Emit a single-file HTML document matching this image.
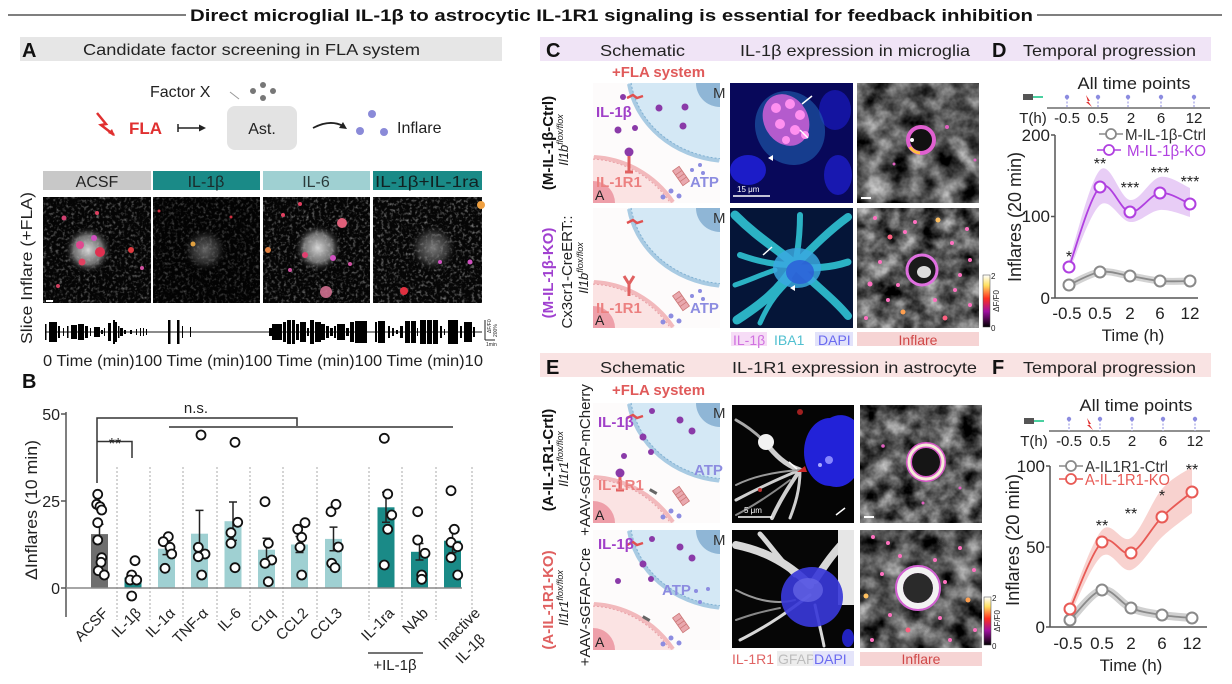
<!DOCTYPE html>
<html><head><meta charset="utf-8">
<style>
html,body{margin:0;padding:0;background:#fff;width:1232px;height:684px;overflow:hidden;}
svg{display:block;font-family:"Liberation Sans",Arial,sans-serif;overflow:hidden;}
</style></head><body>
<svg width="1232" height="684" viewBox="0 0 1232 684" xmlns="http://www.w3.org/2000/svg">
<defs>
<filter id="fSpeck" x="0" y="0" width="1" height="1" color-interpolation-filters="sRGB">
<feTurbulence type="fractalNoise" baseFrequency="0.32" numOctaves="2" seed="4"/>
<feColorMatrix type="matrix" values="0 0 0 0 0.85  0 0 0 0 0.85  0 0 0 0 0.85  2.2 0 0 0 -1.1"/>
</filter>
<filter id="fGray" x="0" y="0" width="1" height="1" color-interpolation-filters="sRGB">
<feTurbulence type="fractalNoise" baseFrequency="0.045" numOctaves="4" seed="7"/>
<feColorMatrix type="matrix" values="1.2 0 0 0 -0.27  1.2 0 0 0 -0.27  1.2 0 0 0 -0.27  0 0 0 0 1"/>
</filter>
<filter id="fGray2" x="0" y="0" width="1" height="1" color-interpolation-filters="sRGB">
<feTurbulence type="fractalNoise" baseFrequency="0.05" numOctaves="4" seed="11"/>
<feColorMatrix type="matrix" values="1.2 0 0 0 -0.25  1.2 0 0 0 -0.25  1.2 0 0 0 -0.25  0 0 0 0 1"/>
</filter>
<radialGradient id="blobW"><stop offset="0" stop-color="#e0e0e0" stop-opacity="0.95"/><stop offset="0.6" stop-color="#a0a0a0" stop-opacity="0.7"/><stop offset="1" stop-color="#000" stop-opacity="0"/></radialGradient>
<radialGradient id="blobF"><stop offset="0" stop-color="#999" stop-opacity="0.8"/><stop offset="0.6" stop-color="#666" stop-opacity="0.5"/><stop offset="1" stop-color="#000" stop-opacity="0"/></radialGradient>
<linearGradient id="cbar" x1="0" y1="0" x2="0" y2="1"><stop offset="0" stop-color="#fff"/><stop offset="0.2" stop-color="#ffe060"/><stop offset="0.45" stop-color="#ff3020"/><stop offset="0.7" stop-color="#a010a0"/><stop offset="1" stop-color="#000"/></linearGradient>
<g id="schBase">
<rect width="127" height="120" fill="#fdfbfb"/>
<path d="M35 0 A103 92 0 0 0 127 78.6 L127 0 Z" fill="#d4e8f5"/>
<path d="M36 1 A103 92 0 0 0 126 77.6" fill="none" stroke="#a9cbe3" stroke-width="4"/>
<path d="M38.1 0 A100 89 0 0 0 127 75.6" fill="none" stroke="#7fb0d2" stroke-width="1" stroke-dasharray="2 2"/>
<path d="M103 0 A24 24 0 0 0 127 24 L127 0 Z" fill="#8fb6d6"/>
<path d="M0 120 L0 73.1 A102 102 0 0 1 80.9 120 Z" fill="#fbe3e3"/>
<path d="M1 74 A102 102 0 0 1 80 119" fill="none" stroke="#f2b9bc" stroke-width="4"/>
<path d="M0 76.1 A99 99 0 0 1 77.3 120" fill="none" stroke="#e9a0a6" stroke-width="1" stroke-dasharray="2 2"/>
<path d="M0 98 A22 22 0 0 1 22 120 L0 120 Z" fill="#ee9fa9"/>
<g transform="translate(88,93) rotate(-35)"><rect x="-4" y="-9" width="8" height="18" fill="#e9a8ae" stroke="#c77" stroke-width="0.8"/><line x1="-4" y1="-4" x2="4" y2="-4" stroke="#c77" stroke-width="0.8"/><line x1="-4" y1="0" x2="4" y2="0" stroke="#c77" stroke-width="0.8"/><line x1="-4" y1="4" x2="4" y2="4" stroke="#c77" stroke-width="0.8"/></g>
<circle cx="78" cy="108" r="2.5" fill="#8c8ce0"/><circle cx="86" cy="113" r="2.5" fill="#8c8ce0"/><circle cx="70" cy="114" r="2.5" fill="#8c8ce0"/>
<path d="M34 15 l6 -3 l4 3 l6 -2" stroke="#e05050" stroke-width="2.5" fill="none"/>
</g>
</defs>

<rect width="1232" height="684" fill="#fff"/>

<!-- Title -->
<line x1="8" y1="15" x2="186" y2="15" stroke="#555" stroke-width="1.5"/>
<line x1="1037" y1="15" x2="1222" y2="15" stroke="#555" stroke-width="1.5"/>
<text x="190" y="21" font-size="17" font-weight="bold" fill="#111" textLength="843" lengthAdjust="spacingAndGlyphs">Direct microglial IL-1β to astrocytic IL-1R1 signaling is essential for feedback inhibition</text>

<!-- Panel A header -->
<rect x="20" y="37" width="482" height="24" fill="#e6e6e6"/>
<text x="22" y="57" font-size="20" font-weight="bold" fill="#111">A</text>
<text x="83" y="55" font-size="16" fill="#222" textLength="337" lengthAdjust="spacingAndGlyphs">Candidate factor screening in FLA system</text>

<!-- A diagram -->
<text x="150" y="97" font-size="16" fill="#222">Factor X</text>
<line x1="230" y1="92" x2="239" y2="99" stroke="#999" stroke-width="1"/>
<circle cx="253" cy="91" r="3" fill="#777"/><circle cx="263" cy="85" r="3" fill="#777"/><circle cx="263" cy="98" r="3" fill="#777"/><circle cx="273" cy="91" r="3" fill="#777"/>
<polyline points="97,113 106,124 101,125 114,135" fill="none" stroke="#e03030" stroke-width="2.5" stroke-linejoin="miter"/>
<path d="M115 136 L108 133 L112 129 Z" fill="#e03030"/>
<text x="129" y="134" font-size="17" font-weight="bold" fill="#e03030">FLA</text>
<line x1="178" y1="124" x2="178" y2="132" stroke="#222" stroke-width="1.5"/>
<line x1="178" y1="128" x2="204" y2="128" stroke="#222" stroke-width="1.5"/>
<path d="M206 128 L199 124.5 L199 131.5 Z" fill="#222"/>
<rect x="227" y="106" width="70" height="44" rx="8" fill="#e3e3e3"/>
<text x="262" y="134" font-size="16" fill="#222" text-anchor="middle">Ast.</text>
<path d="M313 128 Q330 119 343 126" stroke="#222" stroke-width="1.8" fill="none"/>
<path d="M347 129 L339 128 L343 122 Z" fill="#222"/>
<circle cx="360" cy="131" r="4" fill="#8a8ad8"/><circle cx="372" cy="114" r="4" fill="#8a8ad8"/><circle cx="384" cy="132" r="4" fill="#8a8ad8"/>
<text x="397" y="133" font-size="16" fill="#222">Inflare</text>

<!-- A condition bars -->
<rect x="43" y="171" width="108" height="19" fill="#c8c8c8"/>
<rect x="153" y="171" width="107" height="19" fill="#1a8a87"/>
<rect x="263" y="171" width="107" height="19" fill="#9fd0d2"/>
<rect x="373" y="171" width="109" height="19" fill="#1a8a87"/>
<text x="97" y="187" font-size="16" fill="#222" text-anchor="middle">ACSF</text>
<text x="206" y="187" font-size="16" fill="#1a2a2a" text-anchor="middle">IL-1β</text>
<text x="316" y="187" font-size="16" fill="#2a3a3a" text-anchor="middle">IL-6</text>
<text x="427" y="187" font-size="16" fill="#112222" text-anchor="middle" textLength="104" lengthAdjust="spacingAndGlyphs">IL-1β+IL-1ra</text>

<!-- A images -->
<g>
<rect x="43" y="197" width="108" height="106" fill="#050505"/>
<rect x="43" y="197" width="108" height="106" filter="url(#fSpeck)" opacity="0.55"/>
<circle cx="88" cy="250" r="24" fill="url(#blobW)"/>
<circle cx="80" cy="245" r="4" fill="#e04890"/><circle cx="100" cy="252" r="5" fill="#e03050"/><circle cx="94" cy="238" r="3" fill="#d050c0"/><circle cx="82" cy="262" r="3.5" fill="#e04060"/><circle cx="131" cy="250" r="3" fill="#e03a40"/><circle cx="64" cy="218" r="2.5" fill="#d04070"/><circle cx="97" cy="213" r="2" fill="#e04060"/><circle cx="142" cy="268" r="2" fill="#d050a0"/><circle cx="58" cy="286" r="2" fill="#d04060"/>
<rect x="46" y="300" width="7" height="2" fill="#fff"/>
<rect x="153" y="197" width="107" height="106" fill="#030303"/>
<rect x="153" y="197" width="107" height="106" filter="url(#fSpeck)" opacity="0.4"/>
<circle cx="205" cy="250" r="22" fill="url(#blobF)" opacity="0.8"/>
<circle cx="193" cy="244" r="2.5" fill="#e0a040"/><circle cx="159" cy="211" r="1.5" fill="#d03040"/><circle cx="231" cy="217" r="1.5" fill="#d03040"/>
<rect x="263" y="197" width="107" height="106" fill="#050505"/>
<rect x="263" y="197" width="107" height="106" filter="url(#fSpeck)" opacity="0.6"/>
<circle cx="318" cy="248" r="24" fill="url(#blobW)"/>
<circle cx="305" cy="255" r="3" fill="#e04070"/><circle cx="333" cy="258" r="3" fill="#d050c0"/><circle cx="342" cy="223" r="5" fill="#e0607a"/><circle cx="326" cy="292" r="6" fill="#d07090" opacity="0.9"/><circle cx="268" cy="250" r="3" fill="#e08040"/><circle cx="283" cy="215" r="2" fill="#e04060"/><circle cx="300" cy="204" r="2" fill="#e04060"/><circle cx="290" cy="270" r="2" fill="#d050a0"/><circle cx="350" cy="264" r="2" fill="#d050a0"/>
<rect x="373" y="197" width="109" height="106" fill="#060606"/>
<rect x="373" y="197" width="109" height="106" filter="url(#fSpeck)" opacity="0.65"/>
<circle cx="433" cy="248" r="24" fill="url(#blobF)"/>
<circle cx="404" cy="291" r="4" fill="#e03040"/><circle cx="481" cy="205" r="4" fill="#f0a040"/><circle cx="470" cy="262" r="2.5" fill="#d050c0"/><circle cx="440" cy="262" r="2" fill="#d050c0"/>
</g>

<text transform="translate(32,268) rotate(-90)" font-size="16" fill="#222" text-anchor="middle" textLength="152" lengthAdjust="spacingAndGlyphs">Slice Inflare (+FLA)</text>

<!-- traces -->
<line x1="45" y1="332" x2="482" y2="332" stroke="#666" stroke-width="1.5"/>
<g fill="#000">
<rect x="45" y="324" width="1.5" height="16"/><rect x="49" y="322" width="8" height="20"/><rect x="58" y="326" width="2" height="12"/><rect x="63" y="328" width="1" height="8"/><rect x="67" y="326" width="1.5" height="12"/><rect x="71" y="325" width="6" height="14"/><rect x="78" y="324" width="6" height="16"/><rect x="85" y="326" width="3" height="12"/><rect x="90" y="328" width="1" height="8"/><rect x="94" y="327" width="6" height="10"/><rect x="101" y="330" width="2" height="4"/><rect x="104" y="328" width="1" height="8"/><rect x="108" y="323" width="3" height="18"/><rect x="113" y="320" width="2" height="24"/><rect x="115" y="322" width="2" height="20"/><rect x="118" y="326" width="1.5" height="12"/><rect x="120" y="328" width="3" height="8"/><rect x="124" y="330" width="2" height="4"/><rect x="130" y="330" width="2" height="4"/><rect x="136" y="329" width="1" height="6"/><rect x="140" y="328" width="1" height="8"/><rect x="143" y="328" width="1" height="8"/><rect x="146" y="329" width="1" height="6"/>
<rect x="168" y="320" width="2.5" height="24"/><rect x="177" y="320" width="2.5" height="24"/><rect x="182" y="326" width="1" height="12"/><rect x="190" y="327" width="1" height="10"/>
<rect x="269" y="328" width="3" height="8"/><rect x="272" y="324" width="10" height="16"/><rect x="283" y="322" width="3" height="20"/><rect x="287" y="320" width="4" height="24"/><rect x="292" y="320" width="3" height="24"/><rect x="296" y="324" width="3" height="16"/><rect x="300" y="322" width="6" height="20"/><rect x="307" y="328" width="2" height="8"/><rect x="310" y="320" width="4" height="24"/><rect x="315" y="322" width="6" height="20"/><rect x="321" y="324" width="4" height="16"/><rect x="326" y="326" width="3" height="12"/><rect x="330" y="328" width="3" height="8"/><rect x="334" y="326" width="2" height="12"/><rect x="337" y="324" width="8" height="16"/><rect x="346" y="328" width="3" height="8"/><rect x="350" y="322" width="4" height="20"/><rect x="355" y="321" width="12" height="22"/>
<rect x="375" y="322" width="2" height="20"/><rect x="378" y="321" width="7" height="22"/><rect x="388" y="326" width="2" height="12"/><rect x="392" y="328" width="2" height="8"/><rect x="396" y="330" width="2" height="4"/><rect x="400" y="326" width="3" height="12"/><rect x="405" y="321" width="5" height="22"/><rect x="411" y="321" width="5" height="22"/><rect x="417" y="328" width="1" height="8"/><rect x="420" y="320" width="6" height="24"/><rect x="427" y="320" width="5" height="24"/><rect x="433" y="320" width="5" height="24"/><rect x="440" y="326" width="2" height="12"/><rect x="444" y="329" width="1" height="6"/><rect x="448" y="320" width="10" height="24"/><rect x="460" y="326" width="2" height="12"/><rect x="464" y="322" width="8" height="20"/><rect x="473" y="327" width="2" height="10"/>
</g>
<line x1="485" y1="320" x2="485" y2="340" stroke="#222" stroke-width="1"/>
<line x1="485" y1="340" x2="495" y2="340" stroke="#222" stroke-width="1"/>
<text transform="translate(491,333) rotate(-90)" font-size="5" fill="#222">ΔF/F0</text>
<text transform="translate(497,337) rotate(-90)" font-size="5" fill="#222">200%</text>
<text x="486" y="346" font-size="5" fill="#222">1min</text>
<g font-size="16" fill="#222">
<text x="43" y="366" textLength="110" lengthAdjust="spacingAndGlyphs">0 Time (min)10</text>
<text x="153" y="366" textLength="110" lengthAdjust="spacingAndGlyphs">0 Time (min)10</text>
<text x="263" y="366" textLength="110" lengthAdjust="spacingAndGlyphs">0 Time (min)10</text>
<text x="373" y="366" textLength="110" lengthAdjust="spacingAndGlyphs">0 Time (min)10</text>
</g>

<!-- Panel B -->
<text x="22" y="388" font-size="20" font-weight="bold" fill="#111">B</text>
<text transform="translate(37,510) rotate(-90)" font-size="17" fill="#222" text-anchor="middle" textLength="140" lengthAdjust="spacingAndGlyphs">ΔInflares (10 min)</text>
<g font-size="16" fill="#222" text-anchor="end">
<text x="60" y="420">50</text><text x="60" y="507">25</text><text x="60" y="594">0</text>
</g>
<line x1="66" y1="412" x2="66" y2="617" stroke="#555" stroke-width="1.5"/>
<line x1="61" y1="414" x2="66" y2="414" stroke="#555" stroke-width="1.5"/>
<line x1="61" y1="501" x2="66" y2="501" stroke="#555" stroke-width="1.5"/>
<line x1="61" y1="588" x2="66" y2="588" stroke="#555" stroke-width="1.5"/>
<g stroke="#aaa" stroke-width="1" stroke-dasharray="2 2">
<line x1="117" y1="467" x2="117" y2="620"/><line x1="150" y1="467" x2="150" y2="620"/><line x1="183" y1="467" x2="183" y2="620"/><line x1="217" y1="467" x2="217" y2="620"/><line x1="250" y1="467" x2="250" y2="620"/><line x1="283" y1="467" x2="283" y2="620"/><line x1="317" y1="467" x2="317" y2="620"/><line x1="369" y1="467" x2="369" y2="620"/><line x1="402" y1="467" x2="402" y2="620"/><line x1="436" y1="467" x2="436" y2="620"/><line x1="472" y1="467" x2="472" y2="620"/>
</g>
<!-- bars -->
<rect x="91" y="534.1" width="17" height="53.9" fill="#6e6e6e"/>
<rect x="124.5" y="577.6" width="17" height="10.4" fill="#1a8a87"/>
<rect x="158" y="548.7" width="17" height="39.3" fill="#9fd0d2"/>
<rect x="191" y="533.7" width="17" height="54.3" fill="#9fd0d2"/>
<rect x="224.5" y="521.2" width="17" height="66.8" fill="#9fd0d2"/>
<rect x="258" y="549.7" width="17" height="38.3" fill="#9fd0d2"/>
<rect x="291" y="544.5" width="17" height="43.5" fill="#9fd0d2"/>
<rect x="325" y="538.9" width="17" height="49.1" fill="#9fd0d2"/>
<rect x="377.5" y="507.3" width="17" height="80.7" fill="#1a8a87"/>
<rect x="411" y="551.8" width="17" height="36.2" fill="#1a8a87"/>
<rect x="444" y="540.7" width="17" height="47.3" fill="#1a8a87"/>
<line x1="66" y1="588" x2="462" y2="588" stroke="#888" stroke-width="1.5"/>
<!-- error bars -->
<g stroke="#222" stroke-width="1.5" fill="none">
<path d="M99.5 524.3 V543.9 M95.5 524.3 H103.5"/>
<path d="M166.5 542.8 V554.6 M162.5 542.8 H170.5 M162.5 554.6 H170.5"/>
<path d="M199.5 510.4 V557 M195.5 510.4 H203.5 M195.5 557 H203.5"/>
<path d="M233 502 V540.4 M229 502 H237 M229 540.4 H237"/>
<path d="M266.5 538.2 V561.2 M262.5 538.2 H270.5 M262.5 561.2 H270.5"/>
<path d="M299.5 536.5 V552.5 M295.5 536.5 H303.5 M295.5 552.5 H303.5"/>
<path d="M333.5 527.1 V550.7 M329.5 527.1 H337.5 M329.5 550.7 H337.5"/>
<path d="M386 492.3 V522.3 M382 492.3 H390 M382 522.3 H390"/>
<path d="M419.5 543.5 V560 M415.5 543.5 H423.5 M415.5 560 H423.5"/>
<path d="M452.5 528.8 V552.6 M448.5 528.8 H456.5 M448.5 552.6 H456.5"/>
</g>
<!-- points -->
<g fill="#fff" stroke="#111" stroke-width="1.8">
<circle cx="97.7" cy="494.3" r="4.5"/><circle cx="96.7" cy="504.3" r="4.5"/><circle cx="100" cy="506.7" r="4.5"/><circle cx="101.7" cy="510" r="4.5"/><circle cx="97.7" cy="522.7" r="4.5"/><circle cx="97.7" cy="540" r="4.5"/><circle cx="101.7" cy="557.7" r="4.5"/><circle cx="101" cy="562.3" r="4.5"/><circle cx="98.3" cy="570.7" r="4.5"/><circle cx="104.3" cy="575" r="4.5"/>
<circle cx="135" cy="560.7" r="4.5"/><circle cx="131.7" cy="575" r="4.5"/><circle cx="130" cy="580" r="4.5"/><circle cx="136.7" cy="580" r="4.5"/><circle cx="131.7" cy="596" r="4.5"/>
<circle cx="168.3" cy="536.7" r="4.5"/><circle cx="163.3" cy="541.7" r="4.5"/><circle cx="170" cy="547.3" r="4.5"/><circle cx="171.7" cy="554" r="4.5"/><circle cx="165" cy="568.3" r="4.5"/>
<circle cx="201" cy="435" r="4.5"/><circle cx="198.3" cy="547.3" r="4.5"/><circle cx="205" cy="554" r="4.5"/><circle cx="198.3" cy="556.7" r="4.5"/><circle cx="201.7" cy="575" r="4.5"/>
<circle cx="235" cy="442.3" r="4.5"/><circle cx="237.7" cy="522.3" r="4.5"/><circle cx="231" cy="532.7" r="4.5"/><circle cx="231" cy="543.3" r="4.5"/><circle cx="235" cy="567.7" r="4.5"/>
<circle cx="265" cy="501.7" r="4.5"/><circle cx="268.3" cy="543.3" r="4.5"/><circle cx="271.7" cy="560" r="4.5"/><circle cx="265" cy="563.3" r="4.5"/><circle cx="268.3" cy="581.7" r="4.5"/>
<circle cx="305" cy="522.7" r="4.5"/><circle cx="297.7" cy="529.3" r="4.5"/><circle cx="301.7" cy="537.3" r="4.5"/><circle cx="300" cy="547.3" r="4.5"/><circle cx="301.7" cy="575" r="4.5"/>
<circle cx="336" cy="504.3" r="4.5"/><circle cx="331" cy="511.7" r="4.5"/><circle cx="338.3" cy="547" r="4.5"/><circle cx="331.7" cy="563.3" r="4.5"/><circle cx="335" cy="567.7" r="4.5"/>
<circle cx="384.3" cy="438.3" r="4.5"/><circle cx="387.7" cy="494" r="4.5"/><circle cx="391.7" cy="515" r="4.5"/><circle cx="387.7" cy="529.3" r="4.5"/><circle cx="384.3" cy="565" r="4.5"/>
<circle cx="417.7" cy="511.7" r="4.5"/><circle cx="417.7" cy="540" r="4.5"/><circle cx="425" cy="553.3" r="4.5"/><circle cx="421.7" cy="575" r="4.5"/><circle cx="421.7" cy="579.3" r="4.5"/>
<circle cx="451" cy="490.7" r="4.5"/><circle cx="454.3" cy="529.3" r="4.5"/><circle cx="451" cy="542.3" r="4.5"/><circle cx="457.7" cy="546.7" r="4.5"/><circle cx="451" cy="557.7" r="4.5"/><circle cx="457.7" cy="575" r="4.5"/>
</g>
<!-- significance -->
<g stroke="#333" stroke-width="1.5" fill="none">
<path d="M97 483 V418 H297 V426"/>
<path d="M169 427 H453"/>
<path d="M97 441.5 H132 V458"/>
</g>
<text x="196" y="413" font-size="15" fill="#222" text-anchor="middle">n.s.</text>
<text x="115" y="449" font-size="16" fill="#222" text-anchor="middle">**</text>
<!-- x labels -->
<g font-size="15" fill="#222" text-anchor="end">
<text transform="translate(109,614) rotate(-45)">ACSF</text>
<text transform="translate(142,614) rotate(-45)">IL-1β</text>
<text transform="translate(176,614) rotate(-45)">IL-1α</text>
<text transform="translate(209,614) rotate(-45)">TNF-α</text>
<text transform="translate(242,614) rotate(-45)">IL-6</text>
<text transform="translate(276,614) rotate(-45)">C1q</text>
<text transform="translate(309,614) rotate(-45)">CCL2</text>
<text transform="translate(343,614) rotate(-45)">CCL3</text>
<text transform="translate(395,614) rotate(-45)">IL-1ra</text>
<text transform="translate(429,614) rotate(-45)">NAb</text>
<text transform="translate(481,614) rotate(-45)">Inactive</text>
<text transform="translate(486,640) rotate(-45)">IL-1β</text>
</g>
<line x1="368" y1="653" x2="423" y2="653" stroke="#222" stroke-width="1.2"/>
<text x="395" y="670" font-size="15" fill="#222" text-anchor="middle">+IL-1β</text>

<!-- Panel C/D header -->
<rect x="540" y="37" width="671" height="24" fill="#f0e4f6"/>
<text x="546" y="57" font-size="20" font-weight="bold" fill="#111">C</text>
<text x="600" y="56" font-size="16" fill="#222" textLength="85" lengthAdjust="spacingAndGlyphs">Schematic</text>
<text x="740" y="56" font-size="16" fill="#222" textLength="230" lengthAdjust="spacingAndGlyphs">IL-1β expression in microglia</text>
<text x="992" y="57" font-size="20" font-weight="bold" fill="#111">D</text>
<text x="1023" y="56" font-size="16" fill="#222" textLength="173" lengthAdjust="spacingAndGlyphs">Temporal progression</text>

<text x="612" y="77" font-size="15" font-weight="bold" fill="#e05a5a" textLength="93" lengthAdjust="spacingAndGlyphs">+FLA system</text>

<!-- C row labels -->
<text transform="translate(553,143) rotate(-90)" font-size="15" font-weight="bold" fill="#111" text-anchor="middle">(M-IL-1β-Ctrl)</text>
<text transform="translate(568,140) rotate(-90)" font-size="13" font-style="italic" fill="#222" text-anchor="middle">Il1b<tspan font-size="9" dy="-5">flox/flox</tspan></text>
<text transform="translate(553,273) rotate(-90)" font-size="15" font-weight="bold" fill="#a040d0" text-anchor="middle">(M-IL-1β-KO)</text>
<text transform="translate(572,272) rotate(-90)" font-size="15" fill="#222" text-anchor="middle">Cx3cr1-CreERT::</text>
<text transform="translate(588,268) rotate(-90)" font-size="13" font-style="italic" fill="#222" text-anchor="middle">Il1b<tspan font-size="9" dy="-5">flox/flox</tspan></text>

<!-- C schematics -->
<use href="#schBase" x="593" y="83"/>
<text x="713" y="98" font-size="15" fill="#333">M</text>
<text x="595" y="200" font-size="14" fill="#222">A</text>
<text x="596" y="117" font-size="15" font-weight="bold" fill="#a040c8">IL-1β</text>
<g fill="#8a3aa8"><circle cx="623" cy="97" r="3"/><circle cx="659" cy="108" r="3.5"/><circle cx="685" cy="107" r="3.5"/><circle cx="683" cy="126" r="3.5"/><circle cx="618" cy="130" r="3.5"/><circle cx="635" cy="128" r="3"/><circle cx="629" cy="152" r="4.5"/></g>
<path d="M629 156 V172 M625 172 H633" stroke="#e06060" stroke-width="3"/>
<text x="596" y="187" font-size="15" font-weight="bold" fill="#ec8080">IL-1R1</text>
<text x="690" y="187" font-size="15" font-weight="bold" fill="#8c8ce0">ATP</text>
<g fill="#8c8ce0"><circle cx="692" cy="170" r="2"/><circle cx="700" cy="165" r="2"/><circle cx="703" cy="173" r="2"/></g>

<use href="#schBase" x="593" y="208"/>
<text x="713" y="223" font-size="15" fill="#333">M</text>
<text x="595" y="325" font-size="14" fill="#222">A</text>
<path d="M624 276 L629 284 L634 276 M629 284 V296" stroke="#e06060" stroke-width="3" fill="none"/>
<text x="596" y="313" font-size="15" font-weight="bold" fill="#ec8080">IL-1R1</text>
<text x="690" y="313" font-size="15" font-weight="bold" fill="#8c8ce0">ATP</text>
<g fill="#8c8ce0"><circle cx="692" cy="296" r="2"/><circle cx="700" cy="291" r="2"/><circle cx="703" cy="299" r="2"/></g>

<!-- C micrographs col1 -->
<rect x="730" y="83" width="123" height="120" fill="#08085a"/>
<ellipse cx="748" cy="170" rx="18" ry="15" fill="#1c1cc8"/>
<ellipse cx="838" cy="175" rx="14" ry="20" fill="#1818b0"/>
<ellipse cx="835" cy="110" rx="16" ry="20" fill="#1414a0"/>
<ellipse cx="790" cy="128" rx="34" ry="38" fill="#2060b0" opacity="0.6" transform="rotate(-30 790 128)"/>
<ellipse cx="786" cy="120" rx="22" ry="27" fill="#d060d8" opacity="0.85" transform="rotate(-30 786 120)"/>
<g fill="#ff90f0"><circle cx="776" cy="108" r="5"/><circle cx="790" cy="104" r="5"/><circle cx="800" cy="115" r="5"/><circle cx="780" cy="124" r="5"/><circle cx="795" cy="130" r="5"/><circle cx="805" cy="135" r="4"/><circle cx="786" cy="140" r="4"/></g>
<path d="M812 96 L802 104 M808 138 L800 130" stroke="#fff" stroke-width="1.5"/>
<path d="M768 158 l5 -3 l0 6 z" fill="#fff"/>
<line x1="733" y1="196" x2="770" y2="196" stroke="#fff" stroke-width="1.5"/>
<text x="737" y="192" font-size="8" fill="#fff">15 μm</text>
<rect x="730" y="208" width="123" height="120" fill="#051538"/>
<g stroke="#30c4d4" stroke-linecap="round" fill="none" opacity="0.9">
<path d="M735 215 C760 240 780 250 795 265" stroke-width="9"/>
<path d="M795 265 C815 245 830 230 848 217" stroke-width="8"/>
<path d="M795 265 C780 290 760 305 737 320" stroke-width="9"/>
<path d="M795 265 C815 285 835 300 848 316" stroke-width="8"/>
<path d="M740 255 C760 262 775 265 795 265" stroke-width="6"/>
<path d="M800 215 C800 235 798 250 795 265" stroke-width="6"/>
<path d="M848 262 C830 268 815 268 795 268" stroke-width="7"/>
<path d="M760 323 C770 300 780 290 790 280" stroke-width="5"/>
<path d="M735 285 C750 280 760 275 775 270" stroke-width="5"/>
</g>
<ellipse cx="797" cy="268" rx="24" ry="20" fill="#3aa8e0" opacity="0.85"/>
<ellipse cx="800" cy="272" rx="14" ry="12" fill="#2a5ad8" opacity="0.8"/>
<path d="M772 247 L763 255" stroke="#fff" stroke-width="1.5"/>
<path d="M790 288 l5 -3 l0 6 z" fill="#fff"/>
<!-- C col1 legend -->
<rect x="731" y="332" width="36" height="14" fill="#f6dcf6"/>
<rect x="815" y="332" width="38" height="14" fill="#e2e2fa"/>
<text x="733" y="345" font-size="14" fill="#d070e0">IL-1β</text>
<text x="774" y="345" font-size="14" fill="#50c0d0">IBA1</text>
<text x="818" y="345" font-size="14" fill="#6a6af0">DAPI</text>

<!-- C Inflare images -->
<rect x="857" y="83" width="122" height="120" fill="#000"/>
<rect x="857" y="83" width="122" height="120" filter="url(#fGray)"/>
<circle cx="921" cy="140" r="13" fill="#111"/>
<circle cx="921" cy="140" r="13" fill="none" stroke="#e060d0" stroke-width="4"/>
<path d="M910 147 A13 13 0 0 0 920 153" stroke="#ffc040" stroke-width="3" fill="none"/>
<circle cx="912" cy="140" r="2" fill="#fff"/>
<g fill="#e060c0"><circle cx="947" cy="127" r="2"/><circle cx="975" cy="160" r="1.5"/><circle cx="894" cy="164" r="1.5"/></g>
<rect x="861" y="197" width="10" height="2" fill="#fff"/>
<rect x="857" y="208" width="122" height="120" fill="#000"/>
<rect x="857" y="208" width="122" height="120" filter="url(#fGray2)"/>
<circle cx="922" cy="270" r="15" fill="#1a1a1a"/>
<circle cx="922" cy="270" r="15" fill="none" stroke="#e070e0" stroke-width="3"/>
<ellipse cx="924" cy="272" rx="7" ry="6" fill="#ddd"/>
<g fill="#ff70c0">
<circle cx="938" cy="220" r="2.5" fill="#ffc060"/><circle cx="890" cy="237" r="2.5" fill="#ff6080"/><circle cx="905" cy="232" r="2"/><circle cx="952" cy="243" r="2"/><circle cx="967" cy="229" r="2"/><circle cx="880" cy="262" r="2"/><circle cx="870" cy="284" r="2.5"/><circle cx="888" cy="300" r="2"/><circle cx="903" cy="312" r="2.5" fill="#ffa050"/><circle cx="935" cy="300" r="2"/><circle cx="955" cy="290" r="2"/><circle cx="970" cy="305" r="2"/><circle cx="945" cy="318" r="2.5" fill="#ff6080"/><circle cx="866" cy="318" r="2"/><circle cx="970" cy="260" r="2"/><circle cx="915" cy="222" r="2"/><circle cx="875" cy="218" r="2"/><circle cx="960" cy="275" r="2"/><circle cx="898" cy="285" r="2"/></g>
<rect x="983" y="275" width="7" height="52" fill="url(#cbar)" stroke="#444" stroke-width="0.5"/>
<text x="991" y="279" font-size="8" fill="#222">2</text>
<text x="991" y="331" font-size="8" fill="#222">0</text>
<text transform="translate(999,301) rotate(-90)" font-size="8" fill="#222" text-anchor="middle">ΔF/F0</text>
<rect x="857" y="332" width="122" height="14" fill="#f6d4d4"/>
<text x="918" y="345" font-size="14" fill="#d04848" text-anchor="middle">Inflare</text>

<!-- Panel D chart -->
<text x="1134" y="89" font-size="17" fill="#222" text-anchor="middle" textLength="113" lengthAdjust="spacingAndGlyphs">All time points</text>
<rect x="1023" y="94" width="10" height="6" fill="#555"/><line x1="1033" y1="97" x2="1043" y2="97" stroke="#4ad0a0" stroke-width="2"/>
<line x1="1047" y1="108" x2="1210" y2="108" stroke="#222" stroke-width="1"/>
<g stroke="#8c8ce0" stroke-width="1" stroke-dasharray="2 1.5">
<line x1="1067" y1="98" x2="1067" y2="108"/><line x1="1098" y1="98" x2="1098" y2="108"/><line x1="1128" y1="98" x2="1128" y2="108"/><line x1="1161" y1="98" x2="1161" y2="108"/><line x1="1194" y1="98" x2="1194" y2="108"/>
</g>
<g fill="#8c8ce0"><circle cx="1067" cy="97" r="2.2"/><circle cx="1098" cy="97" r="2.2"/><circle cx="1128" cy="97" r="2.2"/><circle cx="1161" cy="97" r="2.2"/><circle cx="1194" cy="97" r="2.2"/></g>
<path d="M1086 95 L1090 101 L1088 101 L1092 107 L1086 102 L1088 102 Z" fill="#e03030"/>
<g font-size="15" fill="#222" text-anchor="middle">
<text x="1033" y="123">T(h)</text><text x="1067" y="123">-0.5</text><text x="1098" y="123">0.5</text><text x="1131" y="123">2</text><text x="1161" y="123">6</text><text x="1194" y="123">12</text>
</g>
<text transform="translate(1021,217) rotate(-90)" font-size="18" fill="#222" text-anchor="middle" textLength="130" lengthAdjust="spacingAndGlyphs">Inflares (20 min)</text>
<g font-size="17" fill="#222" text-anchor="end">
<text x="1050" y="141">200</text><text x="1050" y="222">100</text><text x="1050" y="304">0</text>
</g>
<line x1="1055" y1="135" x2="1055" y2="298" stroke="#555" stroke-width="1.5"/>
<line x1="1055" y1="298" x2="1198" y2="298" stroke="#555" stroke-width="1.5"/>
<g stroke="#555" stroke-width="1.5"><line x1="1051" y1="135" x2="1055" y2="135"/><line x1="1051" y1="216.5" x2="1055" y2="216.5"/><line x1="1051" y1="298" x2="1055" y2="298"/></g>
<path d="M1069 261 C1074.2 245.8 1089.8 180.2 1100 170 C1110.2 159.8 1120 198.8 1130 200 C1140 201.2 1150 179 1160 177 C1170 175 1185 186.2 1190 188 L1190 217 C1185 215.8 1170 209.2 1160 210 C1150 210.8 1140 222.8 1130 222 C1120 221.2 1110.2 196.7 1100 205 C1089.8 213.3 1074.2 260.8 1069 272 Z" fill="#e8cdf6"/>
<path d="M1069 285 C1074.2 282.8 1089.8 273.5 1100 272 C1110.2 270.5 1120 274.5 1130 276 C1140 277.5 1150 280 1160 281 C1170 281.8 1185 281 1190 281" stroke="#d2d2d2" stroke-width="7" fill="none"/>
<path d="M1069 285 C1074.2 282.8 1089.8 273.5 1100 272 C1110.2 270.5 1120 274.5 1130 276 C1140 277.5 1150 280 1160 281 C1170 281.8 1185 281 1190 281" stroke="#8a8a8a" stroke-width="1.8" fill="none"/>
<path d="M1069 267 C1074.2 253.7 1089.8 196.2 1100 187 C1110.2 177.8 1120 211 1130 212 C1140 213 1150 194.3 1160 193 C1170 191.7 1185 202.2 1190 204" stroke="#b040e0" stroke-width="1.8" fill="none"/>
<g fill="#fff" stroke="#8a8a8a" stroke-width="2"><circle cx="1069" cy="285" r="5.5"/><circle cx="1100" cy="272" r="5.5"/><circle cx="1130" cy="276" r="5.5"/><circle cx="1160" cy="281" r="5.5"/><circle cx="1190" cy="281" r="5.5"/></g>
<g fill="#fff" stroke="#b040e0" stroke-width="2"><circle cx="1069" cy="267" r="5.5"/><circle cx="1100" cy="187" r="5.5"/><circle cx="1130" cy="212" r="5.5"/><circle cx="1160" cy="193" r="5.5"/><circle cx="1190" cy="204" r="5.5"/></g>
<g font-size="16" fill="#222" text-anchor="middle">
<text x="1069" y="262">*</text><text x="1100" y="169">**</text><text x="1130" y="193">***</text><text x="1160" y="178">***</text><text x="1190" y="187">***</text>
</g>
<line x1="1099" y1="134" x2="1123" y2="134" stroke="#8a8a8a" stroke-width="1.5"/><circle cx="1111" cy="134" r="5" fill="#fff" stroke="#8a8a8a" stroke-width="1.8"/>
<text x="1125" y="140" font-size="16" fill="#333" textLength="81" lengthAdjust="spacingAndGlyphs">M-IL-1β-Ctrl</text>
<line x1="1097" y1="150" x2="1121" y2="150" stroke="#b040e0" stroke-width="1.5"/><circle cx="1109" cy="150" r="5" fill="#fff" stroke="#b040e0" stroke-width="1.8"/>
<text x="1127" y="156" font-size="16" fill="#b040e0" textLength="79" lengthAdjust="spacingAndGlyphs">M-IL-1β-KO</text>
<g font-size="17" fill="#222" text-anchor="middle">
<text x="1067" y="319">-0.5</text><text x="1100" y="319">0.5</text><text x="1130" y="319">2</text><text x="1160" y="319">6</text><text x="1190" y="319">12</text>
</g>
<text x="1133" y="341" font-size="17" fill="#222" text-anchor="middle">Time (h)</text>

<!-- Panel E/F header -->
<rect x="540" y="353" width="671" height="24" fill="#f9e3e3"/>
<text x="546" y="374" font-size="20" font-weight="bold" fill="#111">E</text>
<text x="600" y="373" font-size="16" fill="#222" textLength="85" lengthAdjust="spacingAndGlyphs">Schematic</text>
<text x="732" y="373" font-size="16" fill="#222" textLength="245" lengthAdjust="spacingAndGlyphs">IL-1R1 expression in astrocyte</text>
<text x="992" y="374" font-size="20" font-weight="bold" fill="#111">F</text>
<text x="1023" y="373" font-size="16" fill="#222" textLength="173" lengthAdjust="spacingAndGlyphs">Temporal progression</text>
<text x="612" y="395" font-size="15" font-weight="bold" fill="#e05a5a" textLength="93" lengthAdjust="spacingAndGlyphs">+FLA system</text>

<!-- E row labels -->
<text transform="translate(553,460) rotate(-90)" font-size="15" font-weight="bold" fill="#111" text-anchor="middle">(A-IL-1R1-Crtl)</text>
<text transform="translate(568,459) rotate(-90)" font-size="13" font-style="italic" fill="#222" text-anchor="middle">Il1r1<tspan font-size="9" dy="-5">flox/flox</tspan></text>
<text transform="translate(590,460) rotate(-90)" font-size="15" fill="#222" text-anchor="middle">+AAV-sGFAP-mCherry</text>
<text transform="translate(553,600) rotate(-90)" font-size="15" font-weight="bold" fill="#e06060" text-anchor="middle">(A-IL-1R1-KO)</text>
<text transform="translate(568,598) rotate(-90)" font-size="13" font-style="italic" fill="#222" text-anchor="middle">Il1r1<tspan font-size="9" dy="-5">flox/flox</tspan></text>
<text transform="translate(590,607) rotate(-90)" font-size="15" fill="#222" text-anchor="middle">+AAV-sGFAP-Cre</text>

<!-- E schematics -->
<use href="#schBase" x="593" y="403"/>
<text x="713" y="418" font-size="15" fill="#333">M</text>
<text x="595" y="520" font-size="14" fill="#222">A</text>
<text x="598" y="427" font-size="15" font-weight="bold" fill="#a040c8">IL-1β</text>
<g fill="#8a3aa8"><circle cx="652" cy="411" r="3"/><circle cx="680" cy="420" r="3.5"/><circle cx="692" cy="431" r="3.5"/><circle cx="643" cy="437" r="3.5"/><circle cx="651" cy="452" r="3"/><circle cx="624" cy="456" r="3"/><circle cx="620" cy="473" r="4.5"/></g>
<path d="M620 477 V490 M616 490 H624" stroke="#e06060" stroke-width="3"/>
<text x="598" y="490" font-size="15" font-weight="bold" fill="#ec8080">IL-1R1</text>
<text x="694" y="475" font-size="15" font-weight="bold" fill="#8c8ce0">ATP</text>
<rect x="652" y="488" width="3" height="8" fill="#666" transform="rotate(-60 653 492)"/>

<use href="#schBase" x="593" y="530"/>
<text x="713" y="545" font-size="15" fill="#333">M</text>
<text x="595" y="647" font-size="14" fill="#222">A</text>
<text x="598" y="549" font-size="15" font-weight="bold" fill="#a040c8">IL-1β</text>
<g fill="#8a3aa8"><circle cx="652" cy="539" r="3"/><circle cx="680" cy="547" r="3.5"/><circle cx="692" cy="558" r="3.5"/><circle cx="643" cy="564" r="3.5"/><circle cx="651" cy="579" r="3"/><circle cx="618" cy="581" r="3"/></g>
<text x="662" y="595" font-size="15" font-weight="bold" fill="#8c8ce0">ATP</text>
<g fill="#8c8ce0"><circle cx="696" cy="591" r="2"/><circle cx="708" cy="589" r="2"/><circle cx="700" cy="602" r="2"/></g>
<rect x="645" y="615" width="3" height="8" fill="#666" transform="rotate(-60 646 619)"/>

<!-- E micrographs col1 -->
<rect x="732" y="405" width="122" height="118" fill="#050505"/>
<g stroke="#cfcfcf" stroke-linecap="round" fill="none">
<path d="M765 442 C775 455 785 465 800 470" stroke-width="5"/>
<path d="M800 470 C790 485 780 500 772 518" stroke-width="4"/>
<path d="M800 470 C800 490 795 505 790 518" stroke-width="3"/>
<path d="M800 470 C775 480 755 490 736 500" stroke-width="3"/>
<path d="M800 470 C770 472 750 478 736 485" stroke-width="2" stroke="#999"/>
<path d="M765 442 C755 432 745 425 736 420" stroke-width="3" stroke="#aaa"/>
<path d="M736 515 C755 505 770 495 790 480" stroke-width="2" stroke="#888"/>
</g>
<circle cx="766" cy="442" r="8" fill="#f2f2f2"/>
<path d="M854 420 A26 34 0 0 0 830 418 A26 34 0 0 0 830 486 A26 34 0 0 0 854 478 Z" fill="#2222d8"/>
<circle cx="829" cy="460" r="4" fill="#8888ff"/><circle cx="820" cy="465" r="2" fill="#aaaaff"/>
<path d="M797 472 l8 -6 l2 6 z" fill="#c82828"/>
<circle cx="800" cy="412" r="3" fill="#a02020"/><circle cx="760" cy="490" r="2" fill="#c03030"/>
<path d="M789 462 L797 469" stroke="#fff" stroke-width="1.5"/>
<path d="M836 515 L845 508" stroke="#fff" stroke-width="1.5"/>
<line x1="738" y1="517" x2="772" y2="517" stroke="#fff" stroke-width="1.5"/>
<text x="744" y="513" font-size="8" fill="#fff">5 μm</text>
<rect x="732" y="530" width="122" height="118" fill="#060606"/>
<g stroke="#d8d8d8" stroke-linecap="round" fill="none">
<path d="M736 545 C760 550 785 560 810 585" stroke-width="8"/>
<path d="M760 534 C770 545 780 560 795 575" stroke-width="5"/>
<path d="M850 536 C835 550 825 565 815 580" stroke-width="8"/>
<path d="M810 595 C790 610 770 625 740 640" stroke-width="3"/>
<path d="M736 590 C755 600 775 605 795 600" stroke-width="2" stroke="#999"/>
<path d="M815 605 C818 620 822 635 824 646" stroke-width="3"/>
<path d="M736 620 C750 615 760 612 780 608" stroke-width="2" stroke="#888"/>
</g>
<rect x="838" y="530" width="16" height="75" fill="#e6e6e6"/>
<ellipse cx="812" cy="597" rx="31" ry="30" fill="#3838d8" opacity="0.92"/>
<ellipse cx="808" cy="590" rx="15" ry="12" fill="#6a6ae8" opacity="0.7"/>
<ellipse cx="848" cy="638" rx="6" ry="9" fill="#2222c0"/>
<!-- E col1 legend -->
<text x="732" y="664" font-size="14" fill="#e06464">IL-1R1</text>
<rect x="777" y="651" width="36" height="15" fill="#ededed"/>
<text x="778" y="664" font-size="14" fill="#bdbdbd">GFAP</text>
<rect x="813" y="651" width="41" height="15" fill="#e4e4fa"/>
<text x="814" y="664" font-size="14" fill="#6a6af0">DAPI</text>

<!-- E Inflare images -->
<rect x="860" y="405" width="122" height="118" fill="#000"/>
<rect x="860" y="405" width="122" height="118" filter="url(#fGray2)"/>
<circle cx="926" cy="462" r="17" fill="#151515"/>
<circle cx="926" cy="462" r="17" fill="none" stroke="#d858c8" stroke-width="6"/>
<circle cx="926" cy="462" r="17" fill="none" stroke="#f4ecd8" stroke-width="3"/>
<g fill="#e060c0"><circle cx="883" cy="446" r="1.8"/><circle cx="960" cy="488" r="1.5"/><circle cx="923" cy="503" r="1.5"/></g>
<rect x="864" y="516" width="10" height="2" fill="#fff"/>
<rect x="860" y="530" width="122" height="118" fill="#000"/>
<rect x="860" y="530" width="122" height="118" filter="url(#fGray)"/>
<circle cx="918" cy="588" r="20" fill="#2a2a2a"/>
<circle cx="918" cy="588" r="19" fill="none" stroke="#d060d0" stroke-width="8"/>
<circle cx="918" cy="588" r="18" fill="none" stroke="#f2f2f2" stroke-width="6"/>
<g fill="#ff70c0">
<circle cx="873" cy="537" r="2"/><circle cx="888" cy="543" r="2"/><circle cx="935" cy="560" r="2"/><circle cx="960" cy="548" r="2"/><circle cx="974" cy="570" r="2"/><circle cx="866" cy="596" r="2.5" fill="#ffc060"/><circle cx="890" cy="615" r="2"/><circle cx="908" cy="630" r="2.5" fill="#ff6080"/><circle cx="940" cy="618" r="2"/><circle cx="968" cy="600" r="2.5" fill="#ffa050"/><circle cx="975" cy="630" r="2"/><circle cx="872" cy="640" r="2"/><circle cx="950" cy="640" r="2"/><circle cx="900" cy="556" r="2"/><circle cx="945" cy="582" r="2"/><circle cx="882" cy="574" r="2"/></g>
<rect x="984" y="597" width="7" height="48" fill="url(#cbar)" stroke="#444" stroke-width="0.5"/>
<text x="992" y="601" font-size="8" fill="#222">2</text>
<text x="992" y="649" font-size="8" fill="#222">0</text>
<text transform="translate(1000,621) rotate(-90)" font-size="8" fill="#222" text-anchor="middle">ΔF/F0</text>
<rect x="860" y="652" width="122" height="14" fill="#f6d4d4"/>
<text x="921" y="664" font-size="14" fill="#d04848" text-anchor="middle">Inflare</text>

<!-- Panel F chart -->
<text x="1136" y="411" font-size="17" fill="#222" text-anchor="middle" textLength="113" lengthAdjust="spacingAndGlyphs">All time points</text>
<rect x="1024" y="418" width="10" height="6" fill="#555"/><line x1="1034" y1="421" x2="1044" y2="421" stroke="#4ad0a0" stroke-width="2"/>
<line x1="1049" y1="431" x2="1210" y2="431" stroke="#222" stroke-width="1"/>
<g stroke="#8c8ce0" stroke-width="1" stroke-dasharray="2 1.5">
<line x1="1069" y1="420" x2="1069" y2="431"/><line x1="1100" y1="420" x2="1100" y2="431"/><line x1="1132" y1="420" x2="1132" y2="431"/><line x1="1163" y1="420" x2="1163" y2="431"/><line x1="1195" y1="420" x2="1195" y2="431"/>
</g>
<g fill="#8c8ce0"><circle cx="1069" cy="419" r="2.2"/><circle cx="1100" cy="419" r="2.2"/><circle cx="1132" cy="419" r="2.2"/><circle cx="1163" cy="419" r="2.2"/><circle cx="1195" cy="419" r="2.2"/></g>
<path d="M1087 418 L1091 424 L1089 424 L1093 430 L1087 425 L1089 425 Z" fill="#e03030"/>
<g font-size="15" fill="#222" text-anchor="middle">
<text x="1034" y="446">T(h)</text><text x="1069" y="446">-0.5</text><text x="1100" y="446">0.5</text><text x="1132" y="446">2</text><text x="1163" y="446">6</text><text x="1195" y="446">12</text>
</g>
<text transform="translate(1019,540) rotate(-90)" font-size="18" fill="#222" text-anchor="middle" textLength="132" lengthAdjust="spacingAndGlyphs">Inflares (20 min)</text>
<g font-size="17" fill="#222" text-anchor="end">
<text x="1045" y="472">100</text><text x="1045" y="553">50</text><text x="1045" y="633">0</text>
</g>
<line x1="1050" y1="466" x2="1050" y2="627" stroke="#555" stroke-width="1.5"/>
<line x1="1050" y1="627" x2="1207" y2="627" stroke="#555" stroke-width="1.5"/>
<g stroke="#555" stroke-width="1.5"><line x1="1046" y1="466" x2="1050" y2="466"/><line x1="1046" y1="547" x2="1050" y2="547"/><line x1="1046" y1="627" x2="1050" y2="627"/></g>
<path d="M1070 603 C1075.3 590.8 1091.8 540.8 1102 530 C1112.2 519.2 1121 544.8 1131 538 C1141 531.2 1151.8 500.8 1162 489 C1172.2 477.2 1187 470.7 1192 467 L1192 513 C1187 517 1172.2 527.5 1162 537 C1151.8 546.5 1141 566.8 1131 570 C1121 573.2 1112.2 548.5 1102 556 C1091.8 563.5 1075.3 605.2 1070 615 Z" fill="#f8d2cf"/>
<path d="M1070 620 C1075.3 615 1091.8 592 1102 590 C1112.2 588 1121 603.8 1131 608 C1141 612.2 1151.8 613.3 1162 615 C1172.2 616.7 1187 617.5 1192 618" stroke="#d0d0d0" stroke-width="8" fill="none"/>
<path d="M1070 620 C1075.3 615 1091.8 592 1102 590 C1112.2 588 1121 603.8 1131 608 C1141 612.2 1151.8 613.3 1162 615 C1172.2 616.7 1187 617.5 1192 618" stroke="#8a8a8a" stroke-width="1.8" fill="none"/>
<path d="M1070 609 C1075.3 597.8 1091.8 551.3 1102 542 C1112.2 532.7 1121 557.2 1131 553 C1141 548.8 1151.8 527.2 1162 517 C1172.2 506.8 1187 496.2 1192 492" stroke="#e85a55" stroke-width="1.8" fill="none"/>
<g fill="#fff" stroke="#8a8a8a" stroke-width="2"><circle cx="1070" cy="620" r="5.5"/><circle cx="1102" cy="590" r="5.5"/><circle cx="1131" cy="608" r="5.5"/><circle cx="1162" cy="615" r="5.5"/><circle cx="1192" cy="618" r="5.5"/></g>
<g fill="#fff" stroke="#e85a55" stroke-width="2"><circle cx="1070" cy="609" r="5.5"/><circle cx="1102" cy="542" r="5.5"/><circle cx="1131" cy="553" r="5.5"/><circle cx="1162" cy="517" r="5.5"/><circle cx="1192" cy="492" r="5.5"/></g>
<g font-size="16" fill="#222" text-anchor="middle">
<text x="1102" y="531">**</text><text x="1131" y="519">**</text><text x="1162" y="501">*</text><text x="1192" y="475">**</text>
</g>
<line x1="1059" y1="466" x2="1083" y2="466" stroke="#8a8a8a" stroke-width="1.5"/><circle cx="1071" cy="466" r="5" fill="#fff" stroke="#8a8a8a" stroke-width="1.8"/>
<text x="1085" y="472" font-size="16" fill="#333" textLength="83" lengthAdjust="spacingAndGlyphs">A-IL1R1-Ctrl</text>
<line x1="1059" y1="479" x2="1083" y2="479" stroke="#e85a55" stroke-width="1.5"/><circle cx="1071" cy="479" r="5" fill="#fff" stroke="#e85a55" stroke-width="1.8"/>
<text x="1085" y="485" font-size="16" fill="#e85a55" textLength="85" lengthAdjust="spacingAndGlyphs">A-IL-1R1-KO</text>
<g font-size="17" fill="#222" text-anchor="middle">
<text x="1068" y="649">-0.5</text><text x="1102" y="649">0.5</text><text x="1131" y="649">2</text><text x="1162" y="649">6</text><text x="1192" y="649">12</text>
</g>
<text x="1131" y="671" font-size="17" fill="#222" text-anchor="middle">Time (h)</text>
</svg>
</body></html>
